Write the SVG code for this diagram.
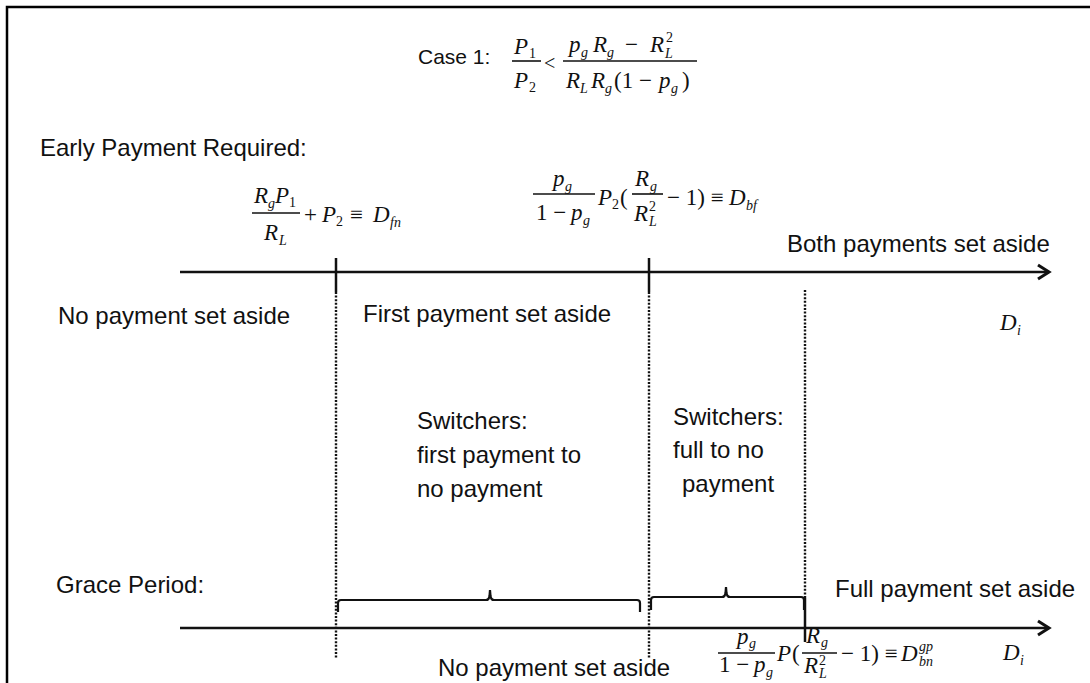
<svg xmlns="http://www.w3.org/2000/svg" width="1090" height="683" viewBox="0 0 1090 683">
  <style>
    .t { font-family: "Liberation Sans", Arial, sans-serif; font-size: 24px; fill: #111; }
    .mi { font-family: "Liberation Serif", "DejaVu Serif", serif; font-style: italic; font-size: 23px; fill: #111; }
    .mu { font-family: "Liberation Serif", "DejaVu Serif", serif; font-style: normal; font-size: 23px; fill: #111; }
    .sb { font-size: 14px; }
    .bar { stroke: #111; stroke-width: 1.6; }
    .axis { stroke: #111; stroke-width: 2.5; fill: none; }
    .tick { stroke: #111; stroke-width: 2.5; }
    .dot { stroke: #111; stroke-width: 2.4; stroke-dasharray: 2 1.6; }
    .brace { stroke: #111; stroke-width: 2.2; fill: none; }
  </style>
  <defs>
    <marker id="arrow" markerUnits="userSpaceOnUse" markerWidth="20" markerHeight="20" refX="14" refY="10" orient="auto">
      <path d="M3,3 L14,10 L3,17" fill="none" stroke="#111" stroke-width="3"/>
    </marker>
  </defs>
  <rect width="1090" height="683" fill="#fff"/>
  <!-- frame -->
  <path d="M7,683 L7,7 L1090,7" fill="none" stroke="#000" stroke-width="2.5"/>

  <!-- case condition -->
  <g id="title">
    <text class="t" x="418" y="64" style="font-size:21px">Case 1:</text>
    <text class="mi" x="514" y="54">P</text><text class="mu sb" x="529" y="58">1</text>
    <line class="bar" x1="512" y1="61" x2="541" y2="61"/>
    <text class="mi" x="514" y="88">P</text><text class="mu sb" x="529" y="92">2</text>
    <text class="mu" x="544" y="70" style="font-size:20px">&lt;</text>
    <text class="mi" x="569" y="52">p</text><text class="mi sb" x="581" y="57">g</text>
    <text class="mi" x="593" y="52">R</text><text class="mi sb" x="607" y="57">g</text>
    <text class="mu" x="625" y="52">−</text>
    <text class="mi" x="650" y="52">R</text><text class="mu sb" x="666" y="42">2</text><text class="mi sb" x="665" y="58">L</text>
    <line class="bar" x1="563" y1="61" x2="697" y2="61"/>
    <text class="mi" x="566" y="88">R</text><text class="mi sb" x="580" y="93">L</text>
    <text class="mi" x="591" y="88">R</text><text class="mi sb" x="605" y="93">g</text>
    <text class="mu" x="614" y="88">(1 − </text>
    <text class="mi" x="659" y="88">p</text><text class="mi sb" x="671" y="93">g</text>
    <text class="mu" x="682" y="88">)</text>
  </g>

  <g id="early-label"><text class="t" x="40" y="156">Early Payment Required:</text></g>

  <!-- threshold D_fn -->
  <g id="threshold-fn">
    <text class="mi" x="254" y="203">R</text><text class="mi sb" x="268" y="208">g</text>
    <text class="mi" x="275" y="203">P</text><text class="mu sb" x="289" y="207">1</text>
    <line class="bar" x1="252" y1="213" x2="300" y2="213"/>
    <text class="mi" x="264" y="240">R</text><text class="mi sb" x="279" y="245">L</text>
    <text class="mu" x="304" y="222">+</text>
    <text class="mi" x="322" y="222">P</text><text class="mu sb" x="336" y="226">2</text>
    <text class="mu" x="350" y="222">≡</text>
    <text class="mi" x="373" y="222">D</text><text class="mi sb" x="390" y="227">fn</text>
  </g>

  <!-- threshold D_bf -->
  <g id="threshold-bf">
    <text class="mi" x="553" y="186">p</text><text class="mi sb" x="565" y="191">g</text>
    <line class="bar" x1="533" y1="194" x2="595" y2="194"/>
    <text class="mu" x="536" y="220">1 − </text><text class="mi" x="571" y="220">p</text><text class="mi sb" x="583" y="225">g</text>
    <text class="mi" x="598" y="205">P</text><text class="mu sb" x="612" y="209">2</text>
    <text class="mu" x="620" y="205">(</text>
    <text class="mi" x="635" y="186">R</text><text class="mi sb" x="650" y="191">g</text>
    <line class="bar" x1="632" y1="194" x2="663" y2="194"/>
    <text class="mi" x="634" y="221">R</text><text class="mu sb" x="649" y="211">2</text><text class="mi sb" x="649" y="226">L</text>
    <text class="mu" x="667" y="205">− 1) ≡</text>
    <text class="mi" x="729" y="205">D</text><text class="mi sb" x="746" y="210">bf</text>
  </g>

  <g id="both-label"><text class="t" x="787" y="252">Both payments set aside</text></g>
  <g id="no-label-top"><text class="t" x="58" y="324">No payment set aside</text></g>
  <g id="first-label"><text class="t" x="363" y="322">First payment set aside</text></g>
  <g id="di-top"><text class="mi" x="1000" y="330">D</text><text class="mi sb" x="1017" y="335">i</text></g>

  <g id="switch-first">
    <text class="t" x="417" y="429">Switchers:</text>
    <text class="t" x="417" y="463">first payment to</text>
    <text class="t" x="417" y="497">no payment</text>
  </g>
  <g id="switch-full">
    <text class="t" x="673" y="425">Switchers:</text>
    <text class="t" x="673" y="458">full to no</text>
    <text class="t" x="682" y="492">payment</text>
  </g>

  <g id="grace-label"><text class="t" x="56" y="593">Grace Period:</text></g>
  <g id="full-label"><text class="t" x="835" y="597">Full payment set aside</text></g>
  <g id="no-label-bottom"><text class="t" x="438" y="676">No payment set aside</text></g>
  <g id="di-bottom"><text class="mi" x="1003" y="660">D</text><text class="mi sb" x="1020" y="665">i</text></g>

  <!-- threshold D_bn^gp -->
  <g id="threshold-bn">
    <text class="mi" x="737" y="644">p</text><text class="mi sb" x="749" y="648">g</text>
    <line class="bar" x1="718" y1="653" x2="775" y2="653"/>
    <text class="mu" x="719" y="672">1 − </text><text class="mi" x="754" y="672">p</text><text class="mi sb" x="766" y="677">g</text>
    <text class="mi" x="777" y="661">P</text>
    <text class="mu" x="792" y="661">(</text>
    <text class="mi" x="806" y="643">R</text><text class="mi sb" x="821" y="647">g</text>
    <line class="bar" x1="802" y1="653" x2="837" y2="653"/>
    <text class="mi" x="804" y="673">R</text><text class="mu sb" x="819" y="665">2</text><text class="mi sb" x="819" y="678">L</text>
    <text class="mu" x="841" y="661">− 1) ≡</text>
    <text class="mi" x="901" y="661">D</text><text class="mi sb" x="919" y="651">gp</text><text class="mi sb" x="919" y="666">bn</text>
  </g>

  <g id="connectors">
    <!-- axes -->
    <line class="axis" x1="180" y1="272" x2="1049" y2="272" marker-end="url(#arrow)"/>
    <line class="axis" x1="180" y1="628" x2="1049" y2="628" marker-end="url(#arrow)"/>
    <!-- threshold ticks -->
    <line class="tick" x1="336" y1="258" x2="336" y2="292"/>
    <line class="tick" x1="649" y1="258" x2="649" y2="292"/>
    <line class="tick" x1="805" y1="598" x2="805" y2="642"/>
    <!-- dotted guides -->
    <line class="dot" x1="336" y1="292" x2="336" y2="658"/>
    <line class="dot" x1="649" y1="292" x2="649" y2="658"/>
    <line class="dot" x1="805" y1="290" x2="805" y2="598"/>
    <!-- braces -->
    <path class="brace" d="M338,612 L338,603 Q338,600 341,600 L486,600 Q489,600 489.5,596 L490,590 L490.5,596 Q491,600 494,600 L637,600 Q640,600 640,603 L640,612"/>
    <path class="brace" d="M651,610 L651,600 Q651,597 654,597 L722,597 Q725,597 725.5,593 L726,587 L726.5,593 Q727,597 730,597 L801,597 Q804,597 804,600 L804,610"/>
  </g>
</svg>
